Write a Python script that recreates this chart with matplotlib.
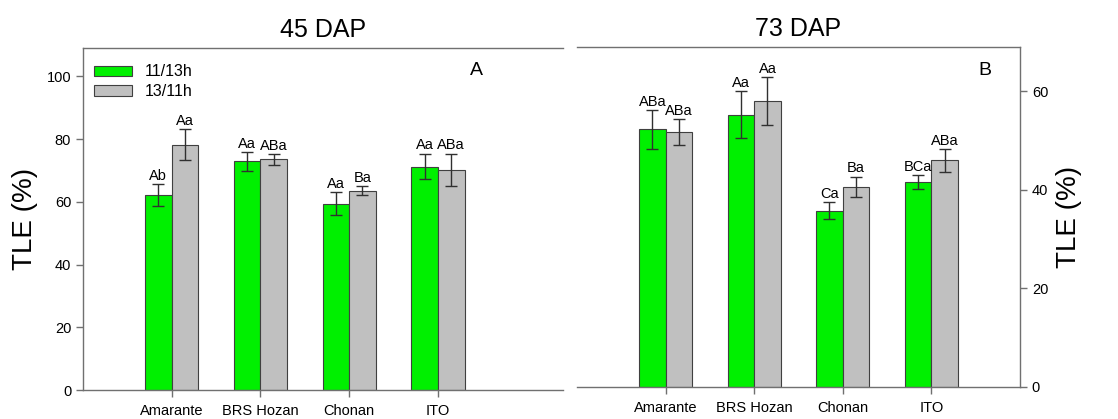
import matplotlib.pyplot as plt
import numpy as np

plt.rcParams['font.family'] = ['Liberation Sans', 'DejaVu Sans']

cultivars = ["Amarante", "BRS Hozan", "Chonan", "ITO"]
series = ["11/13h", "13/11h"]

# 45 DAP
dap45_short = [62.2, 72.9, 59.4, 71.2]
dap45_short_err = [3.4, 3.0, 3.7, 4.1]
dap45_long = [78.2, 73.5, 63.5, 70.1]
dap45_long_err = [4.9, 1.7, 1.5, 5.2]
dap45_short_lab = ["Ab", "Aa", "Aa", "Aa"]
dap45_long_lab = ["Aa", "ABa", "Ba", "ABa"]

# 73 DAP
dap73_short = [52.3, 55.3, 35.8, 41.6]
dap73_short_err = [3.9, 4.7, 1.65, 1.4]
dap73_long = [51.8, 58.0, 40.6, 46.0]
dap73_long_err = [2.6, 4.9, 2.1, 2.3]
dap73_short_lab = ["ABa", "Aa", "Ca", "BCa"]
dap73_long_lab = ["ABa", "Aa", "Ba", "ABa"]

green = "#00F000"
grey = "#C0C0C0"
edge = "#404040"
spine_col = "#707070"

fig = plt.figure(figsize=(11.18, 4.19), dpi=100)
ax1 = fig.add_axes([0.0742, 0.0692, 0.4294, 0.8162])
ax2 = fig.add_axes([0.5161, 0.0764, 0.3962, 0.8114])

def draw_panel(ax, short, short_err, long, long_err, short_lab, long_lab, ylim, yticks):
    x = np.arange(1, len(cultivars) + 1)
    w = 0.30
    ax.bar(x - w / 2, short, w, color=green, edgecolor=edge, linewidth=0.8, label=series[0], zorder=2)
    ax.bar(x + w / 2, long, w, color=grey, edgecolor=edge, linewidth=0.8, label=series[1], zorder=2)
    ax.errorbar(x - w / 2, short, yerr=short_err, fmt='none', ecolor="#303030", elinewidth=1, capsize=4.5, zorder=3)
    ax.errorbar(x + w / 2, long, yerr=long_err, fmt='none', ecolor="#303030", elinewidth=1, capsize=4.5, zorder=3)
    off = ylim[1] * 0.004
    for xi, v, e, t in zip(x - w / 2, short, short_err, short_lab):
        ax.text(xi, v + e + off, t, ha='center', va='bottom', fontsize=10.5)
    for xi, v, e, t in zip(x + w / 2, long, long_err, long_lab):
        ax.text(xi, v + e + off, t, ha='center', va='bottom', fontsize=10.5)
    ax.set_xticks(x)
    ax.set_xticklabels(cultivars, fontsize=10.5)
    ax.set_ylim(*ylim)
    ax.set_yticks(yticks)
    ax.tick_params(axis='both', labelsize=10.5, color=spine_col, length=5, width=1)
    ax.tick_params(axis='x', pad=5)
    for s in ax.spines.values():
        s.set_color(spine_col)
        s.set_linewidth(1)

draw_panel(ax1, dap45_short, dap45_short_err, dap45_long, dap45_long_err,
           dap45_short_lab, dap45_long_lab, (0, 109), [0, 20, 40, 60, 80, 100])
ax1.set_xlim(0, 5.41)
ax1.spines['right'].set_visible(False)
ax1.set_ylabel("TLE (%)", fontsize=20, labelpad=6)
ax1.set_title("45 DAP", fontsize=18, pad=8)
ax1.text(0.82, 0.935, "A", transform=ax1.transAxes, fontsize=14, ha='center', va='center')
ax1.legend(loc='upper left', frameon=False, fontsize=11.5, handlelength=2.4, handleheight=0.6,
           borderaxespad=0.3, labelspacing=0.3, bbox_to_anchor=(0.0, 0.985))

draw_panel(ax2, dap73_short, dap73_short_err, dap73_long, dap73_long_err,
           dap73_short_lab, dap73_long_lab, (0, 69), [0, 20, 40, 60])
ax2.set_xlim(0, 5.0)
ax2.spines['left'].set_visible(False)
ax2.yaxis.tick_right()
ax2.yaxis.set_label_position('right')
ax2.set_ylabel("TLE (%)", fontsize=20, rotation=90, labelpad=6)
ax2.set_title("73 DAP", fontsize=18, pad=8)
ax2.text(0.92, 0.93, "B", transform=ax2.transAxes, fontsize=14, ha='center', va='center')

fig.savefig("out.png", dpi=100)
